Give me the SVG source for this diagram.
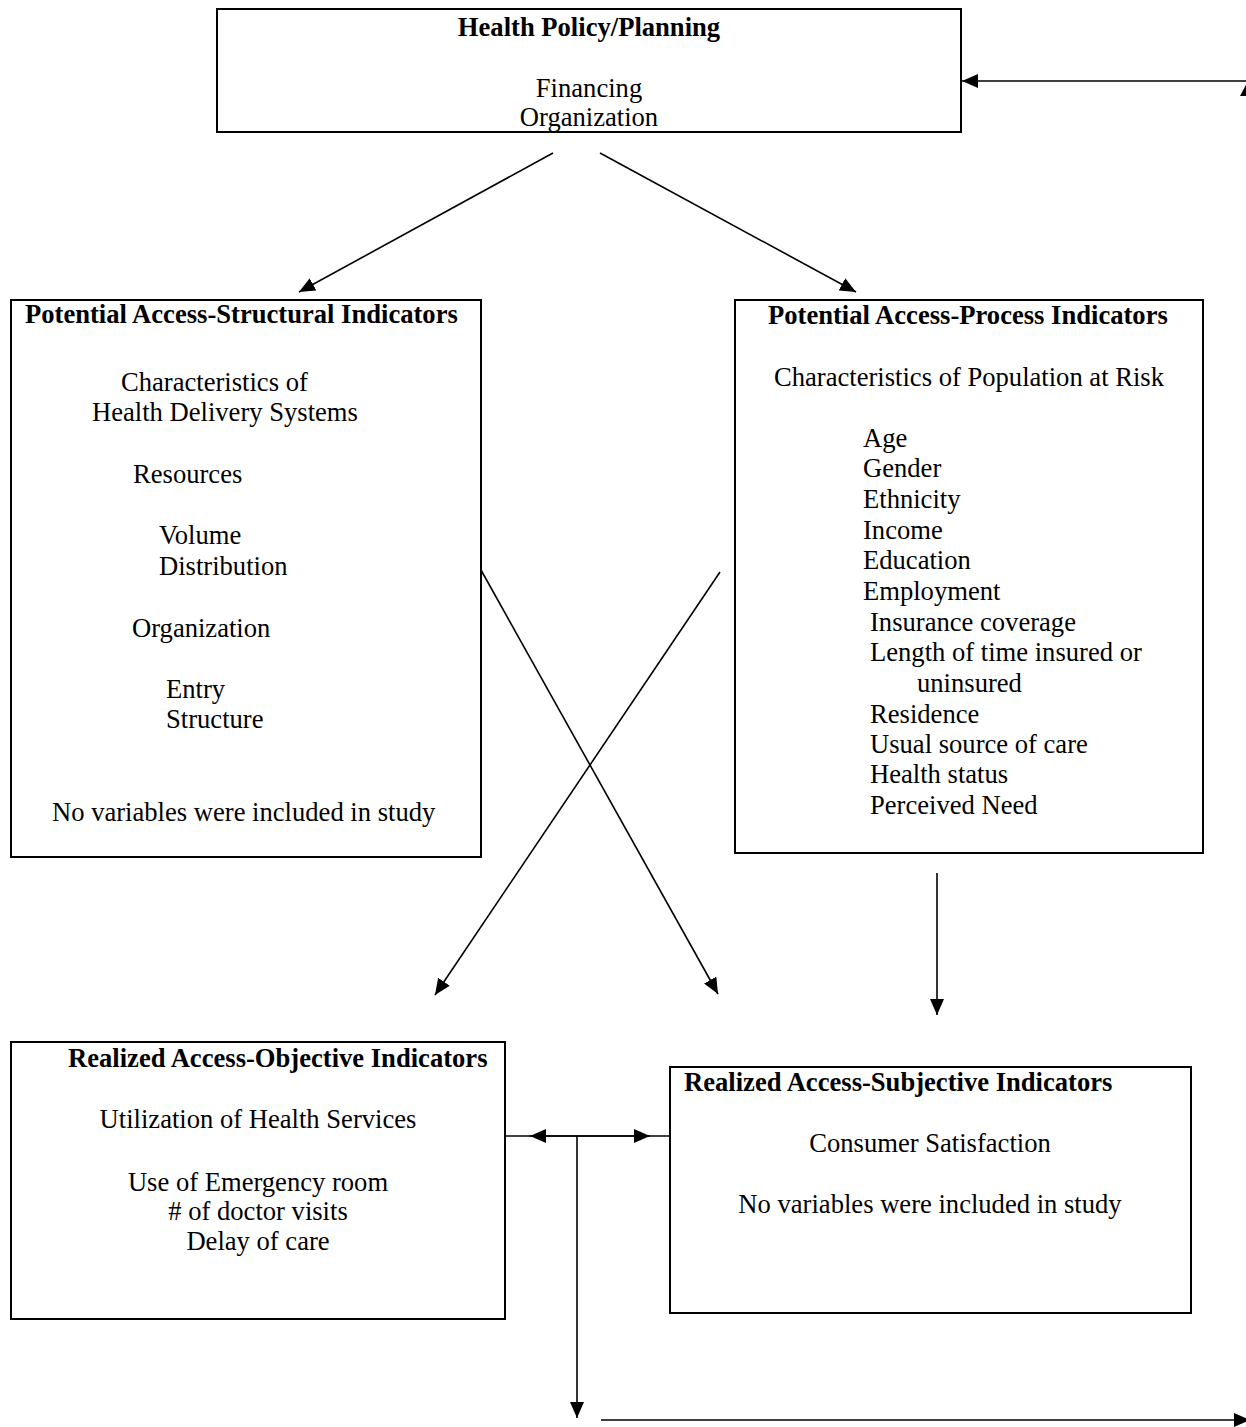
<svg xmlns="http://www.w3.org/2000/svg" width="1246" height="1427" viewBox="0 0 1246 1427">
<style>
.box{fill:#fff;stroke:#000;stroke-width:2}
.t{font-family:"Liberation Serif","Times New Roman",serif;font-size:26.6px;fill:#000}
.b{font-weight:bold}
.m{text-anchor:middle}
.c{stroke:#000;stroke-width:1.6;fill:none}
</style>
<defs>
<marker id="ah" viewBox="0 0 16 14" refX="16" refY="7" markerWidth="16" markerHeight="14" markerUnits="userSpaceOnUse" orient="auto-start-reverse">
<path d="M0,0 L16,7 L0,14 Z" fill="#000"/>
</marker>
</defs>
<rect width="1246" height="1427" fill="#fff"/>
<g id="connectors">
<line class="c" x1="1260" y1="81" x2="962" y2="81" marker-end="url(#ah)"/>
<polygon points="1240,96 1247,83 1247,96" fill="#000"/>
<line class="c" x1="553" y1="153" x2="299" y2="292" marker-end="url(#ah)"/>
<line class="c" x1="600" y1="153" x2="856" y2="292" marker-end="url(#ah)"/>
<line class="c" x1="481" y1="570" x2="718" y2="994" marker-end="url(#ah)"/>
<line class="c" x1="720" y1="572" x2="435" y2="995" marker-end="url(#ah)"/>
<line class="c" x1="937" y1="873" x2="937" y2="1015" marker-end="url(#ah)"/>
<line class="c" x1="530" y1="1136" x2="650" y2="1136" marker-start="url(#ah)" marker-end="url(#ah)"/>
<line class="c" x1="505" y1="1136" x2="673" y2="1136"/>
<line class="c" x1="577" y1="1136" x2="577" y2="1418" marker-end="url(#ah)"/>
<line class="c" x1="601" y1="1420" x2="1250" y2="1420" marker-end="url(#ah)"/>
</g>
<g id="health-policy">
<rect class="box" x="217" y="9" width="744" height="123"/>
<text class="t b m" x="589" y="36">Health Policy/Planning</text>
<text class="t m" x="589" y="97">Financing</text>
<text class="t m" x="589" y="126">Organization</text>
</g>
<g id="structural">
<rect class="box" x="11" y="300" width="470" height="557"/>
<text class="t b" x="25" y="323">Potential Access-Structural Indicators</text>
<text class="t" x="121" y="391">Characteristics of</text>
<text class="t" x="92" y="421">Health Delivery Systems</text>
<text class="t" x="133" y="483">Resources</text>
<text class="t" x="159" y="544">Volume</text>
<text class="t" x="159" y="575">Distribution</text>
<text class="t" x="132" y="637">Organization</text>
<text class="t" x="166" y="698">Entry</text>
<text class="t" x="166" y="728">Structure</text>
<text class="t" x="52" y="821">No variables were included in study</text>
</g>
<g id="process">
<rect class="box" x="735" y="300" width="468" height="553"/>
<text class="t b" x="768" y="324">Potential Access-Process Indicators</text>
<text class="t" x="774" y="386">Characteristics of Population at Risk</text>
<text class="t" x="863" y="447">Age</text>
<text class="t" x="863" y="477">Gender</text>
<text class="t" x="863" y="508">Ethnicity</text>
<text class="t" x="863" y="539">Income</text>
<text class="t" x="863" y="569">Education</text>
<text class="t" x="863" y="600">Employment</text>
<text class="t" x="870" y="631">Insurance coverage</text>
<text class="t" x="870" y="661">Length of time insured or</text>
<text class="t" x="917" y="692">uninsured</text>
<text class="t" x="870" y="723">Residence</text>
<text class="t" x="870" y="753">Usual source of care</text>
<text class="t" x="870" y="783">Health status</text>
<text class="t" x="870" y="814">Perceived Need</text>
</g>
<g id="objective">
<rect class="box" x="11" y="1042" width="494" height="277"/>
<text class="t b" x="68" y="1067">Realized Access-Objective Indicators</text>
<text class="t m" x="258" y="1128">Utilization of Health Services</text>
<text class="t m" x="258" y="1191">Use of Emergency room</text>
<text class="t m" x="258" y="1220">&#35; of doctor visits</text>
<text class="t m" x="258" y="1250">Delay of care</text>
</g>
<g id="subjective">
<rect class="box" x="670" y="1067" width="521" height="246"/>
<text class="t b" x="684" y="1091">Realized Access-Subjective Indicators</text>
<text class="t m" x="930" y="1152">Consumer Satisfaction</text>
<text class="t m" x="930" y="1213">No variables were included in study</text>
</g>
</svg>
